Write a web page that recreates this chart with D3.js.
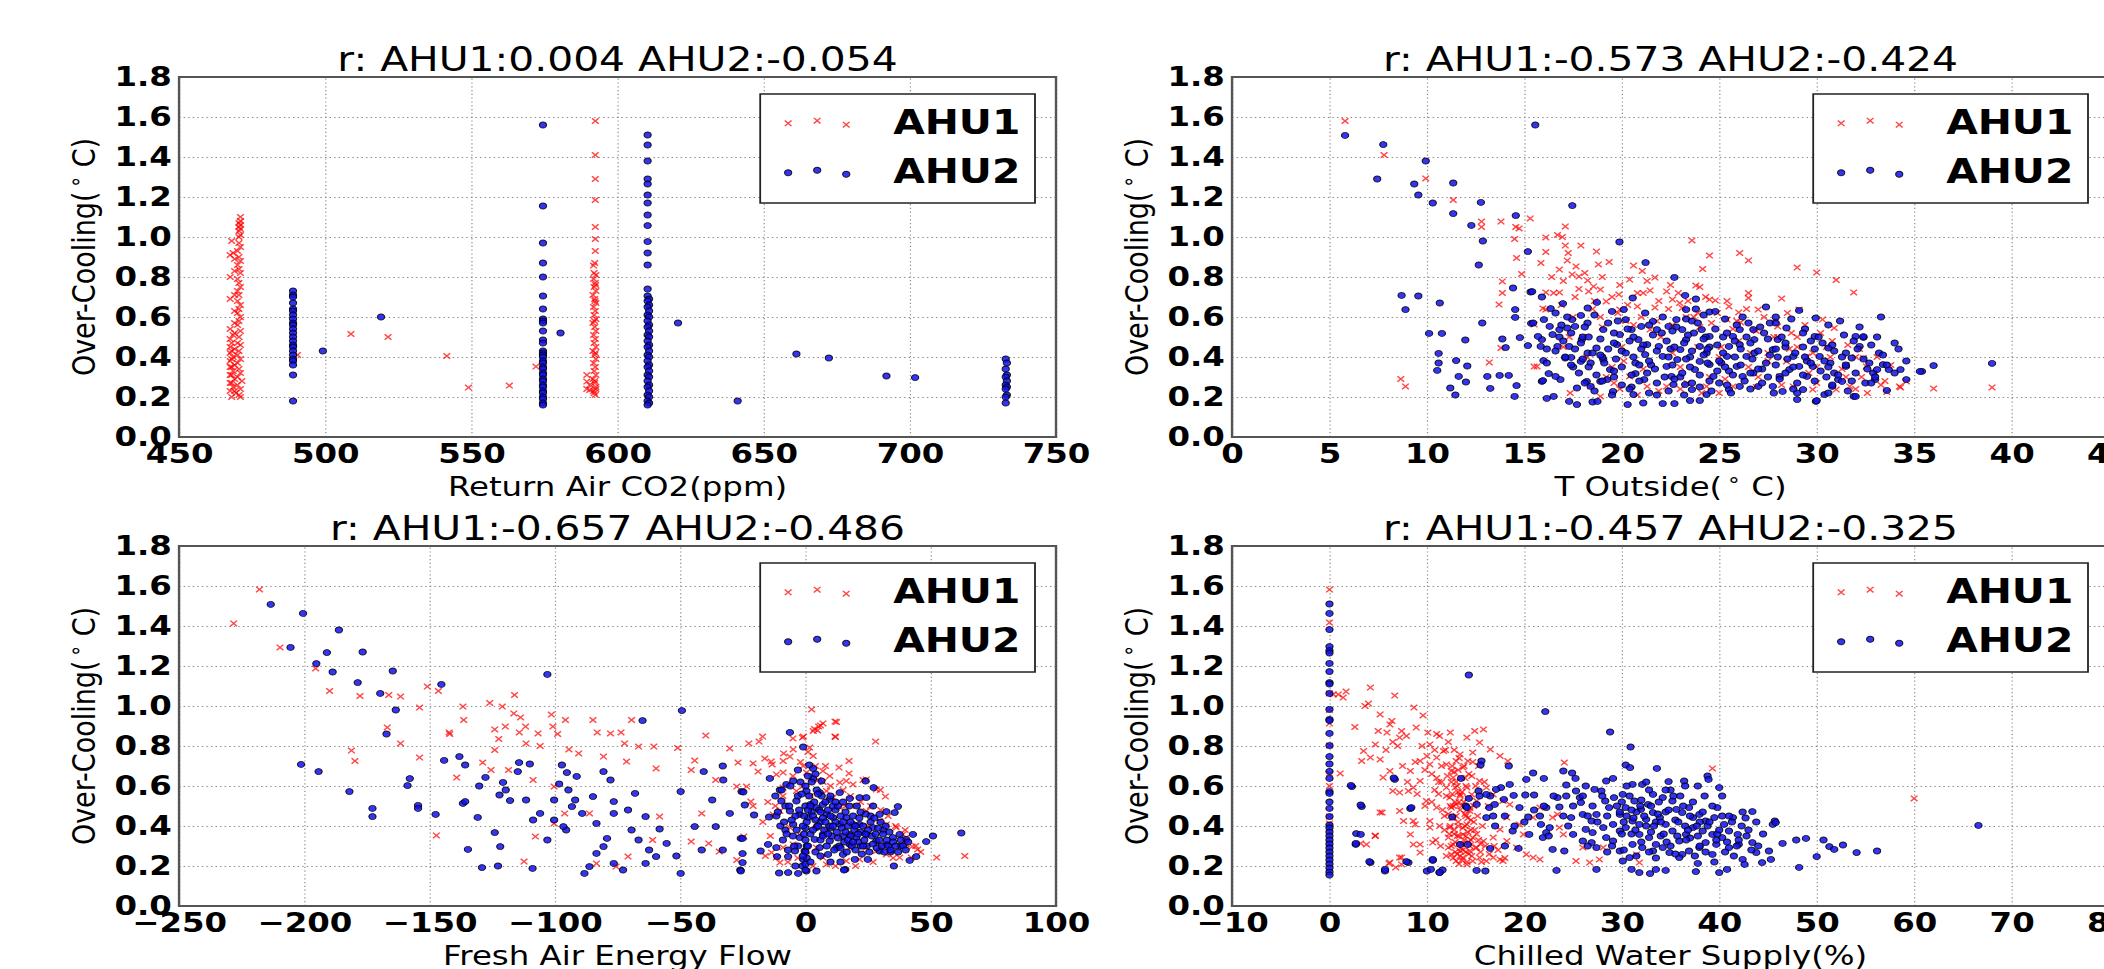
<!DOCTYPE html>
<html>
<head>
<meta charset="utf-8">
<script src="https://cdn.jsdelivr.net/npm/d3@7"></script>
<style>
  body { margin: 0; background: #fff; }
  svg { display: block; }
</style>
</head>
<body>
<script>
// ---- data: [x, over-cooling] ----
var yTicks = [0, 0.2, 0.4, 0.6, 0.8, 1.0, 1.2, 1.4, 1.6, 1.8];

var co2Ticks = [450, 500, 550, 600, 650, 700, 750];
var co2Ahu1 = [[471,1.10],[471,1.08],[470.5,1.07],[471,1.06],[470.5,1.05],[471,1.04],[470.5,1.03],[471,1.01],[470.5,1.00],[468,0.98],[470.5,0.97],[471,0.95],[470,0.93],[467.5,0.91],[468.5,0.92],[470.5,0.90],[471,0.88],[470,0.86],[470.5,0.84],[471,0.82],[467.5,0.80],[470,0.79],[470.5,0.77],[471,0.75],[470,0.73],[470.5,0.71],[467.5,0.69],[470,0.68],[471,0.66],[470.5,0.64],[470,0.62],[471,0.60],[470.5,0.58],[470,0.56],[467.5,0.54],[471,0.53],[468.5,0.51],[470.5,0.50],[467.5,0.49],[470,0.47],[471,0.46],[467.5,0.45],[469,0.44],[470.5,0.43],[467.5,0.42],[470,0.41],[468.5,0.40],[471,0.39],[467.5,0.38],[470,0.37],[469,0.36],[467.5,0.35],[470.5,0.34],[468.5,0.33],[471,0.32],[467.5,0.31],[470,0.30],[469,0.29],[471.5,0.28],[467.5,0.27],[470,0.26],[468.5,0.25],[471,0.24],[467.5,0.23],[469.5,0.22],[470.5,0.21],[468,0.20],[471,0.20],[469,0.23],[468,0.27],[468,0.31],[468,0.35],[468,0.39],[468,0.43],[468,0.47],[469,0.52],[469,0.57],[469,0.63],[469,0.71],[469,0.83],[469,0.89],
  [490.5,0.41],[508.8,0.515],[521.5,0.50],[541.6,0.405],[549,0.247],[563,0.257],[572.1,0.352],
  [592.4,1.58],[592.4,1.41],[592.4,1.29],[592.4,1.185],[592.4,1.05],[592.4,0.99],[592.4,0.93],[592.2,0.87],[591.8,0.857],[592,0.82],[592.6,0.81],[591.8,0.79],[592.4,0.77],[592,0.75],[592.6,0.73],[591.6,0.71],[592.2,0.69],[592.6,0.67],[591.8,0.65],[592.4,0.63],[592,0.61],[592.6,0.59],[591.6,0.57],[592.2,0.55],[592.6,0.53],[591.8,0.51],[592.4,0.49],[592,0.47],[592.6,0.45],[591.6,0.43],[592.2,0.41],[592.6,0.39],[591.8,0.37],[592.4,0.35],[592,0.33],[592.6,0.31],[591.6,0.29],[592.2,0.27],[592.6,0.25],[591.8,0.23],[592.4,0.21],[592,0.22],[592.6,0.24],[592.2,0.28],[592.4,0.42],[592.1,0.58],[592.3,0.68],[592.5,0.76],[589.5,0.31],[589.5,0.277],[589.5,0.24],[590.5,0.26],[590.5,0.235]];
var co2Ahu2 = [[489,0.73],[489,0.71],[489,0.70],[489,0.67],[489,0.64],[489,0.63],[489,0.61],[489,0.59],[489,0.57],[489,0.56],[489,0.54],[489,0.52],[489,0.50],[489,0.48],[489,0.46],[489,0.45],[489,0.43],[489,0.41],[489,0.39],[489,0.38],[489,0.36],[489,0.31],[489,0.18],
  [499.2,0.43],[519.1,0.60],
  [574.5,1.56],[574.5,1.155],[574.5,0.97],[574.5,0.87],[574.5,0.80],[574.5,0.705],[574.5,0.64],[574.5,0.59],[574.5,0.58],[574.5,0.57],[574.5,0.53],[574.5,0.485],[574.5,0.47],[574.5,0.43],[574.5,0.42],[574.5,0.41],[574.5,0.40],[574.5,0.38],[574.5,0.37],[574.5,0.35],[574.5,0.34],[574.5,0.32],[574.5,0.31],[574.5,0.29],[574.5,0.28],[574.5,0.26],[574.5,0.25],[574.5,0.23],[574.5,0.22],[574.5,0.20],[574.5,0.19],[574.5,0.17],[574.5,0.16],
  [580.5,0.52],
  [610.3,1.51],[610.3,1.46],[610.3,1.38],[610.3,1.29],[610.3,1.265],[610.3,1.21],[610.3,1.17],[610.3,1.11],[610.3,1.057],[610.3,0.977],[610.3,0.92],[610.3,0.86],[610.3,0.74],[610.3,0.705],[610.8,0.69],[610.3,0.68],[610.8,0.66],[610.3,0.65],[610.8,0.63],[610.3,0.61],[610.8,0.60],[610.3,0.58],[610.8,0.56],[610.3,0.55],[610.8,0.53],[610.3,0.51],[610.8,0.50],[610.3,0.48],[610.8,0.46],[610.3,0.45],[610.8,0.43],[610.3,0.41],[610.8,0.40],[610.3,0.38],[610.8,0.36],[610.3,0.35],[610.8,0.33],[610.3,0.31],[610.8,0.30],[610.3,0.28],[610.8,0.26],[610.3,0.25],[610.8,0.23],[610.3,0.21],[610.8,0.20],[610.3,0.18],[610.8,0.17],[610.3,0.16],
  [620.7,0.57],[641.1,0.18],[661.2,0.415],[672.3,0.395],[692,0.305],[701.8,0.297],
  [732.8,0.39],[733.2,0.37],[732.8,0.34],[733.2,0.31],[732.8,0.30],[733.2,0.28],[732.8,0.26],[733.2,0.25],[732.8,0.24],[733.2,0.21],[732.8,0.20],[732.8,0.17]];

var toutTicks = [0, 5, 10, 15, 20, 25, 30, 35, 40, 45];
var toutAhu1 = [[5.8,1.58],[7.8,1.41],[9.94,1.293],[11.35,1.185],[12.8,1.077],[12.8,1.05],[13.8,1.077],[14.56,1.05],[14.73,1.043],[15.3,1.093],[14.5,0.99],[16.1,0.998],[17.1,1.053],[16.7,1.01],[8.66,0.29],[8.9,0.253],[13.2,0.373],[13.8,0.445],[13.7,0.662],[13.87,0.72],[13.87,0.778],[14.6,0.895],[15.5,0.352],[23.6,0.983],[26.05,0.92],[26.5,0.883],[29.0,0.847],[30.0,0.822],[31.0,0.785],[31.9,0.723],[36.0,0.242],[39.0,0.248],[34.3,0.248],[33.6,0.225],
  [16.1,0.925],[15.85,0.87],[16.95,1.0],[17.1,0.957],[17.25,0.92],[17.9,0.957],[18.7,0.927],[18.8,0.863],[19.35,0.875],[17.2,0.883],[16.8,0.837],[17.65,0.853],[17.45,0.813],[17.8,0.803],[18.25,0.783],[18.55,0.753],[18.3,0.728],[18.9,0.737],[16.8,0.723],[16.5,0.72],[16.1,0.723],[15.95,0.643],[14.86,0.815],
  [20.6,0.857],[21.05,0.83],[21.7,0.797],[21.45,0.733],[21.1,0.72],[20.4,0.787],[19.85,0.712],[19.2,0.678],[18.5,0.64],[19.9,0.637],[20.8,0.653],[21.7,0.647],[22.3,0.728],[22.5,0.76],[22.97,0.67],[23.1,0.645],[24.15,0.84],[24.5,0.907],[23.8,0.757],[24.0,0.75],[24.5,0.687],[24.8,0.683],[25.5,0.653],[26.0,0.623],[26.5,0.72],[26.5,0.695],[27.0,0.637],[28.2,0.692],[29.1,0.637],[30.3,0.587],[30.9,0.545],[28.0,0.553],[28.7,0.52],[26.8,0.537],[26.1,0.573],[25.4,0.587],[32.4,0.395],[32.55,0.353],[32.6,0.22],[34.25,0.253],[34.6,0.278],[31.7,0.253],[31.0,0.237],[29.8,0.237],[28.8,0.253],[28.1,0.303],[28.45,0.378],[29.5,0.403],[25.7,0.253],[25.0,0.22],[24.35,0.253],[23.35,0.27],[22.3,0.253],[21.3,0.253],[20.4,0.303],[19.6,0.27],[18.9,0.203],[18.4,0.253],[17.35,0.22],[15.65,0.353],[15.5,0.562],[16.1,0.637],
  [20.0,0.45],[22.0,0.5],[24.0,0.55],[26.0,0.48],[27.5,0.42],[30.0,0.35],[31.5,0.3],[33.0,0.32],[23.0,0.35],[19.0,0.55],[21.0,0.6],[25.0,0.4],[27.0,0.3],[29.0,0.45],[17.5,0.6],[18.0,0.5],[21.45,0.537],[22.6,0.687],[20.2,0.58],[23.7,0.6],[27.8,0.5],[30.5,0.45],[32.0,0.4],[33.5,0.28],[26.5,0.35],[24.5,0.3],[19.5,0.35],[17.0,0.45],
  [17.0,0.78],[17.6,0.7],[18.1,0.82],[18.6,0.68],[19.0,0.8],[19.5,0.7],[19.9,0.76],[20.3,0.66],[20.8,0.72],[21.3,0.78],[21.9,0.68],[22.4,0.64],[22.9,0.72],[23.4,0.68],[23.9,0.62],[24.3,0.7],[24.9,0.62],[25.4,0.68],[25.9,0.58],[26.4,0.64],[27.3,0.6],[27.9,0.58],[28.5,0.62],[29.4,0.56],[30.2,0.52],[30.8,0.48],[31.6,0.46],[32.2,0.44],[33.1,0.4],[33.8,0.36],[16.4,0.8],[16.9,0.66],[17.8,0.74],[18.9,0.6],[19.8,0.62],[20.6,0.56],[21.8,0.58],[22.6,0.56],[23.3,0.6],[24.6,0.57],[25.7,0.54],[26.9,0.53],[28.0,0.5],[29.0,0.5],[29.8,0.42],[30.7,0.4],[31.5,0.36],[32.3,0.3],[33.3,0.26],[32.0,0.24],[30.0,0.27],[28.2,0.26],[26.9,0.25],[25.3,0.29],[24.1,0.22],[23.0,0.24],[21.9,0.23],[20.8,0.21],[19.9,0.24],[19.2,0.3],[18.2,0.4],[17.3,0.5],[20.1,0.38],[22.6,0.42],[25.1,0.45],[27.5,0.38],[29.6,0.32],[31.3,0.34],[23.9,0.45],[21.1,0.34],[26.6,0.42],[28.6,0.44]];
var toutAhu2 = [[5.8,1.508],[7.76,1.462],[7.45,1.29],[9.35,1.265],[9.56,1.21],[9.94,1.38],[10.3,1.17],[11.35,1.27],[11.35,1.117],[12.77,1.173],[12.28,1.058],[12.87,0.98],[12.66,0.86],[15.56,1.56],[14.56,1.107],[17.46,1.157],[15.18,0.927],[19.88,0.975],[21.22,0.872],[8.7,0.708],[9.56,0.705],[8.9,0.637],[10.66,0.67],[10.11,0.518],[10.77,0.518],[12.84,0.57],[11.97,0.485],[10.6,0.418],[10.6,0.37],[10.53,0.333],[11.2,0.245],[11.46,0.21],[11.63,0.303],[12.0,0.275],[12.07,0.355],[11.5,0.382],[13.1,0.303],[13.25,0.243],[13.73,0.308],[14.2,0.308],[14.04,0.447],[13.87,0.49],[14.5,0.203],[14.6,0.257],[14.53,0.598],[14.53,0.637],[14.42,0.745],[14.77,0.497],[15.18,0.457],[15.32,0.725],[15.35,0.568],[15.84,0.453],[15.98,0.382],[15.9,0.278],[16.15,0.193],[16.5,0.203],
  [22.7,0.798],[23.25,0.708],[23.8,0.69],[20.56,0.695],[16.98,0.667],[15.9,0.7],[15.4,0.727],[15.45,0.57],[16.0,0.587],[16.35,0.642],[16.6,0.62],[16.8,0.537],[16.8,0.5],[17.2,0.545],[17.45,0.587],[17.6,0.553],[17.9,0.608],[18.25,0.645],[18.72,0.673],[18.24,0.57],[17.95,0.487],[17.3,0.453],[17.1,0.395],[17.4,0.398],[17.9,0.378],[18.25,0.42],[18.7,0.445],[18.4,0.37],[19.05,0.537],[19.5,0.628],[20.1,0.637],[20.2,0.587],[19.9,0.512],[19.75,0.462],[19.05,0.387],[19.4,0.337],[19.25,0.287],[18.9,0.278],[18.4,0.253],[18.2,0.278],[17.7,0.245],[17.3,0.178],[17.7,0.162],[18.5,0.175],[18.75,0.178],[19.55,0.228],[20.3,0.162],[20.6,0.212],[21.1,0.17],[22.1,0.167],[22.7,0.167],[23.5,0.182],[24.0,0.182],[24.35,0.212],[21.15,0.287],[20.7,0.317],[20.7,0.37],[21.2,0.412],[21.3,0.462],[20.85,0.487],[20.5,0.537],[21.0,0.553],[21.6,0.578],[21.8,0.537],[22.05,0.52],[22.4,0.553],[22.8,0.587],[23.1,0.537],[23.3,0.59],[23.3,0.637],[23.8,0.64],[24.5,0.625],[24.8,0.628],[21.9,0.453],[22.1,0.403],[22.3,0.353],[22.55,0.303],[22.65,0.262],[23.25,0.262],[23.6,0.237],[22.85,0.387],[23.0,0.437],[23.3,0.487],[23.7,0.52],[24.1,0.537],[24.5,0.503],[24.0,0.453],[24.35,0.42],[24.0,0.378],[23.75,0.337],[24.5,0.362],[24.7,0.303],[25.0,0.27],[25.1,0.37],[25.4,0.403],[25.5,0.453],[25.7,0.503],[26.05,0.537],[26.5,0.57],[26.75,0.537],[27.4,0.65],[26.8,0.487],[26.05,0.462],[26.4,0.403],[25.9,0.353],[26.2,0.303],[26.75,0.32],[27.0,0.253],[26.05,0.253],[25.5,0.237],[27.4,0.37],[27.75,0.437],[28.0,0.487],[28.45,0.545],[28.4,0.45],[28.8,0.403],[29.1,0.353],[28.6,0.337],[28.1,0.303],[27.75,0.253],[28.25,0.228],[29.0,0.22],[29.0,0.187],[29.96,0.178],[29.3,0.237],[29.5,0.303],[29.8,0.353],[30.15,0.403],[30.6,0.445],[30.3,0.47],[29.9,0.503],[29.1,0.633],[29.95,0.595],[29.3,0.45],[30.7,0.37],[30.9,0.32],[31.1,0.287],[31.5,0.353],[31.8,0.395],[32.2,0.453],[32.4,0.498],[32.0,0.503],[32.7,0.37],[32.9,0.32],[33.4,0.362],[33.7,0.337],[34.3,0.337],[34.6,0.287],[33.6,0.233],[35.4,0.328],[31.9,0.203],[30.4,0.212],[30.8,0.253],[31.3,0.278],[32.5,0.27],[33.0,0.287],[16.85,0.287],[16.6,0.303],[16.25,0.317],[15.95,0.282],[16.15,0.37],[16.7,0.453],[16.15,0.44],[15.9,0.487],[15.7,0.503],[16.45,0.512],[16.3,0.553],
  [32.4,0.502],[35.3,0.328],[36.0,0.357],[39.0,0.368],[33.1,0.337],[32.0,0.203],[30.0,0.182],
  [19.0,0.4],[20.0,0.43],[21.5,0.36],[22.5,0.44],[23.5,0.4],[24.5,0.45],[25.5,0.33],[26.8,0.42],[27.2,0.34],[28.0,0.4],[29.5,0.38],[30.5,0.3],[31.5,0.42],[19.6,0.3],[20.5,0.25],[21.8,0.21],[23.0,0.3],[24.0,0.25],[25.2,0.5],[27.6,0.57],[17.5,0.35],[18.0,0.5],
  [17.2,0.6],[18.6,0.61],[19.8,0.58],[21.2,0.62],[22.1,0.6],[23.6,0.58],[24.2,0.61],[25.3,0.59],[26.2,0.6],[27.9,0.6],[28.7,0.59],[31.2,0.58],[33.3,0.6],
  [16.9,0.56],[18.1,0.55],[19.3,0.57],[20.3,0.54],[21.4,0.56],[22.8,0.55],[23.9,0.57],[24.8,0.54],[25.9,0.56],[27.1,0.55],[27.9,0.57],[29.4,0.54],[30.6,0.56],[32.2,0.55],
  [17.4,0.52],[18.3,0.5],[19.6,0.52],[20.6,0.5],[21.6,0.51],[22.6,0.53],[23.4,0.51],[24.3,0.5],[25.4,0.52],[26.4,0.5],[27.3,0.52],[28.2,0.5],[29.3,0.52],[30.1,0.5],[31.4,0.51],[33.1,0.5],
  [17.0,0.48],[17.9,0.47],[18.9,0.49],[19.6,0.47],[20.4,0.48],[21.1,0.46],[22.3,0.48],[23.2,0.47],[24.2,0.49],[24.9,0.46],[25.8,0.48],[26.6,0.47],[27.5,0.49],[28.4,0.47],[29.7,0.48],[30.8,0.46],[31.9,0.48],[32.8,0.46],[34.0,0.47],
  [16.6,0.43],[17.6,0.44],[18.5,0.42],[19.3,0.44],[20.2,0.42],[21.0,0.44],[21.8,0.43],[22.7,0.45],[23.6,0.43],[24.4,0.44],[25.2,0.42],[26.1,0.44],[27.0,0.43],[27.9,0.44],[28.9,0.42],[29.9,0.44],[30.9,0.43],[32.1,0.44],[33.2,0.42],[34.2,0.44],
  [17.1,0.4],[18.0,0.39],[18.9,0.41],[19.7,0.39],[20.6,0.4],[21.4,0.38],[22.4,0.4],[23.3,0.39],[24.2,0.41],[25.0,0.38],[25.8,0.4],[26.7,0.39],[27.6,0.41],[28.5,0.39],[29.4,0.4],[30.4,0.38],[31.3,0.4],[32.4,0.39],[33.4,0.41],[34.6,0.38],
  [17.4,0.36],[18.3,0.35],[19.1,0.37],[20.0,0.35],[20.9,0.36],[21.7,0.34],[22.6,0.36],[23.5,0.35],[24.4,0.37],[25.3,0.35],[26.1,0.36],[27.0,0.34],[27.9,0.36],[28.8,0.35],[29.7,0.37],[30.6,0.35],[31.5,0.36],[32.6,0.34],[33.6,0.36],
  [17.8,0.32],[18.7,0.31],[19.6,0.33],[20.5,0.31],[21.3,0.32],[22.2,0.3],[23.1,0.32],[24.0,0.31],[24.9,0.33],[25.7,0.31],[26.6,0.32],[27.5,0.3],[28.4,0.32],[29.3,0.31],[30.2,0.33],[31.1,0.31],[32.0,0.32],[33.0,0.3],[34.0,0.32],
  [18.1,0.27],[19.0,0.28],[20.0,0.26],[20.9,0.28],[21.8,0.27],[22.7,0.29],[23.6,0.27],[24.5,0.28],[25.4,0.26],[26.3,0.28],[27.2,0.27],[28.1,0.29],[29.0,0.27],[29.9,0.28],[30.8,0.26],[31.8,0.28],[32.8,0.27],
  [18.6,0.23],[19.5,0.21],[20.4,0.24],[21.4,0.22],[22.4,0.23],[23.2,0.21],[24.6,0.23],[25.6,0.22],[26.6,0.24],[27.8,0.22],[28.8,0.24],[30.6,0.22],[31.6,0.23]];

var faefTicks = [-250, -200, -150, -100, -50, 0, 50, 100];
var faefAhu1 = [[-228.2,1.413],[-217.9,1.583],[-209.7,1.293],[-195.5,1.188],[-189.9,1.075],[-181.2,0.777],[-179.8,0.725],[-177.8,1.05],[-166.3,1.055],[-161.6,1.047],[-166.9,0.893],[-161.6,0.813],[-154.0,0.992],[-154.0,0.742],[-150.9,1.097],[-146.5,1.075],[-147.3,0.353],[-142.2,0.868],[-142,0.86],[-136.7,0.997],[-136.4,0.93],[-139.2,0.642],[-128.8,0.717],[-126,1.015],[-124,0.883],[-122.4,0.835],[-121,0.997],[-119.8,0.897],[-124,0.78],[-116.1,1.055],[-116.4,0.963],[-113.7,0.943],[-111.7,0.897],[-114.2,0.868],[-111.5,0.813],[-106.7,0.863],[-105.9,0.8],[-112.3,0.222],[-107.8,0.347],[-101.4,0.957],[-100.8,0.897],[-98.9,0.86],[-95.8,0.93],[-94.4,0.783],[-90.5,0.763],[-84.8,0.93],[-83.1,0.868],[-80.6,0.747],[-77.8,0.863],[-73.6,0.868],[-72.2,0.813],[-69.4,0.93],[-71.4,0.722],[-66.6,0.797],[-59.6,0.688],[-60.5,0.797],[-51,0.79],[-45.6,0.68],[-39.8,0.852],[-44.2,0.727],[-30.2,0.788],[-26.9,0.717],[-18.5,0.822],[-17.1,0.847],[-13.7,0.722],[-8.7,0.763],[-5.0,0.838],[-0.8,0.847],[2.5,0.983],[3.6,0.885],[5.3,0.897],[7.0,0.913],[11.8,0.922],[11.8,0.847],[17.4,0.725],[28.0,0.822],[52.4,0.242],[63.6,0.25],[17.4,0.663],[23.0,0.63],[29.9,0.58],[31.9,0.547],[39.8,0.38],[42.6,0.297],[-34.4,0.272],[-38.6,0.313],[-24.6,0.347],[-27.4,0.23],[-45.6,0.322],[-61,0.33],[-70.8,0.247],[-75.6,0.197],[-83.4,0.213],[-86.2,0.463],[-96.1,0.463],[-100.3,0.597],[-108.7,0.63],[-118.5,0.68],[-125.5,0.68],[-100.3,0.413],[-58.2,0.447],[-41.4,0.463],[-21.8,0.522],[-27.4,0.597],[-35.8,0.63],
  [12.4,0.92],[6.0,0.903],[4.8,0.878],[3.1,0.875],[12.0,0.845],[-22.6,0.813],[-1.2,0.842],[-4.9,0.783],[-8.9,0.725],[-6.2,0.747],[-13.3,0.708],[-20.9,0.713],[-16.2,0.737],[1.7,0.792],[3.1,0.75],[-0.9,0.7],[0.4,0.667],[2.4,0.642],[7.0,0.675],[9.7,0.65],[13.4,0.692],[13.7,0.617],[16.3,0.625],[19.0,0.608],[24.3,0.633],[28.3,0.583],[-8.9,0.667],[-11.6,0.658],[-18.9,0.672],[-23.5,0.597],[-20.9,0.5],[-12.9,0.458],[-8.9,0.592],[-3.6,0.575],[8.4,0.575],[11.0,0.542],[13.7,0.492],[20.3,0.5],[24.3,0.475],[29.6,0.425],[32.3,0.408],[36.3,0.392],[38.9,0.358],[40.2,0.308],[44.8,0.283],[42.3,0.242],[37.6,0.242],[32.3,0.258],[28.3,0.275],[24.3,0.292],[21.6,0.233],[16.3,0.225],[8.4,0.208],[7.0,0.242],[4.4,0.292],[0.4,0.275],[-10.2,0.217],[-11.6,0.242],[-13.5,0.267],[-8.9,0.292],[17.7,0.292],[13.7,0.342],[8.4,0.375],[4.4,0.417],[-2.3,0.358],[-4.9,0.308],[-6.2,0.392],[-10.2,0.475],
  [-5,0.65],[-2,0.72],[1,0.77],[4,0.7],[7,0.62],[10,0.6],[15,0.58],[18,0.55],[22,0.52],[26,0.5],[30,0.48],[33,0.45],[36,0.4],[40,0.34],[44,0.3],[46,0.27],[-9,0.55],[-12,0.5],[-15,0.52],[-17,0.42],[-14,0.35],[-16,0.25],[-7,0.22],[-3,0.24],[3,0.2],[12,0.2],[20,0.2],[27,0.22],[35,0.24],[30,0.3],[25,0.4],[5,0.63],[-1,0.6],[8,0.7],[2,0.55],[16,0.5]];
var faefAhu2 = [[-213.4,1.508],[-200.5,1.463],[-205.5,1.293],[-195.2,1.212],[-191,1.267],[-188.7,1.17],[-186.2,1.38],[-178.7,1.117],[-176.7,1.27],[-169.7,1.063],[-164.7,1.175],[-163.5,0.98],[-167.2,0.86],[-201.3,0.708],[-194.3,0.672],[-182,0.572],[-172.8,0.488],[-172.8,0.447],[-157.9,0.637],[-158.8,0.602],[-154.6,0.503],[-154.6,0.488],[-147.6,0.458],[-145.3,1.108],[-144.2,0.728],[-138.1,0.747],[-135.8,0.705],[-136.7,0.513],[-135.8,0.522],[-134.7,0.283],[-130.8,0.443],[-129.1,0.192],[-127.7,0.643],[-130.2,0.6],[-124,0.367],[-122.7,0.2],[-121.8,0.297],[-120.7,0.618],[-119.6,0.58],[-122.1,0.555],[-117.9,0.527],[-114.3,0.717],[-114.8,0.672],[-110,0.71],[-108.9,0.188],[-103,1.158],[-103,0.33],[-97.2,0.705],[-95.2,0.667],[-91.3,0.648],[-98.3,0.61],[-95.5,0.38],[-96.6,0.397],[-88.2,0.163],[-86.2,0.197],[-80.6,0.672],[-79.2,0.338],[-76.5,0.213],[-72.8,0.18],[-65,0.927],[-49.3,0.977],[-40.6,0.672],[-33,0.7],[-32.8,0.63],[-25.5,0.572],[-25.8,0.338],[-26,0.18],[-49.8,0.163],[-51.5,0.25],[-49.8,0.572],[-37.2,0.53],[-30.2,0.463],[-58.2,0.385],[-55.4,0.313],[-63.8,0.447],[-68,0.563],[-70.8,0.48],[-76.5,0.522],[-76.5,0.463],[-83.4,0.413],[-80.6,0.297],[-83.4,0.263],[-89.1,0.463],[-93.2,0.497],[-100.3,0.43],[-105.9,0.463],[-108.7,0.43],[-111.5,0.53],[-100.3,0.53],[-91.9,0.53],[-84.8,0.547],[-94.6,0.58],[-77.8,0.63],[-69.4,0.38],[-66.6,0.33],[-62.4,0.28],[-63.8,0.213],[-59.6,0.247],[-44.2,0.397],[-41.4,0.28],[-35.8,0.397],[-33,0.28],
  [-6.2,0.868],[-0.9,0.795],[1.5,0.705],[3.1,0.687],[3.1,0.637],[6.4,0.625],[-4.9,0.625],[-14.2,0.638],[-24.8,0.57],[-24.2,0.505],[-20.5,0.455],[-25.1,0.338],[-25.1,0.262],[-25.1,0.217],[-25.8,0.175],[-10.5,0.165],[-6.9,0.167],[-2.9,0.163],[0.4,0.175],[4.4,0.175],[15.9,0.183],[15.4,0.18],[35.3,0.2],[41.6,0.228],[44.2,0.247],[48.2,0.322],[50.9,0.35],[62.2,0.365],[36.9,0.497],[35.6,0.467],[32.3,0.472],[27.2,0.592],[24.0,0.625],[21.6,0.542],[17.7,0.538],[13.7,0.567],[9.7,0.533],[7.0,0.508],[5.7,0.567],[-10.2,0.58],[-7.6,0.608],[-9.6,0.525],[-11.6,0.45],[-14.5,0.445],[-14.9,0.308],[-17.9,0.275],[-11.6,0.292],[-11.3,0.247],[-6.9,0.247],[-4.2,0.275],[-0.9,0.233],[-1.2,0.2],[-0.3,0.275],[-2.3,0.342],[-4.9,0.408],[-6.2,0.475],[-3.6,0.525],[0.4,0.575],[2.0,0.508],[1.1,0.442],[4.4,0.392],[7.0,0.358],[9.7,0.325],[12.4,0.292],[15.0,0.258],[17.7,0.308],[20.3,0.342],[24.3,0.358],[27.0,0.392],[28.3,0.325],[29.6,0.275],[32.3,0.308],[34.9,0.342],[37.6,0.358],[40.2,0.333],[42.9,0.358],[13.7,0.408],[11.0,0.442],[16.3,0.442],[19.0,0.408],[8.4,0.458],[4.4,0.492],[-2.3,0.458],[24.3,0.542],[27.0,0.5],[29.6,0.458],[21.6,0.408],[17.7,0.358],[3.7,0.333],[5.7,0.292],[9.0,0.258],[19.7,0.233],[24.9,0.233],
  [0,0.18],[0,0.21],[0.5,0.24],[0,0.27],[0.5,0.3],[0,0.33],[-0.5,0.36],[0,0.39],[2.5,0.47],[6,0.42],[10,0.39],[12,0.48],[15,0.35],[22,0.3],[26,0.45],[31,0.38],[34,0.27],[38,0.3],[-8,0.38],[-3,0.3],
  [-12,0.55],[-10,0.4],[-9,0.33],[-8,0.5],[-7,0.28],[-6,0.6],[-5,0.35],[-4,0.45],[-3,0.55],[-2,0.62],[-1,0.4],[0,0.5],[0,0.6],[1,0.3],[1.5,0.55],[2,0.36],[2.5,0.62],[3,0.45],[3.5,0.52],[4,0.27],[4.5,0.58],[5,0.4],[5.5,0.48],[6,0.33],[6.5,0.55],[7,0.44],[7.5,0.38],[8,0.52],[8.5,0.3],[9,0.48],[9.5,0.4],[10,0.55],[10.5,0.35],[11,0.5],[11.5,0.28],[12,0.42],[12.5,0.37],[13,0.5],[13.5,0.3],[14,0.45],[14.5,0.39],[15,0.52],[15.5,0.32],[16,0.47],[16.5,0.27],[17,0.4],[17.5,0.5],[18,0.35],[18.5,0.3],[19,0.45],[19.5,0.38],[20,0.28],[20.5,0.5],[21,0.32],[21.5,0.44],[22,0.37],[22.5,0.26],[23,0.4],[23.5,0.33],[24,0.46],[24.5,0.3],[25,0.38],[25.5,0.27],[26,0.42],[26.5,0.35],[27,0.31],[27.5,0.44],[28,0.36],[28.5,0.29],[29,0.39],[29.5,0.33],[30,0.42],[30.5,0.3],[31,0.36],[31.5,0.27],[32,0.4],[32.5,0.33],[33,0.3],[33.5,0.37],[34,0.28],[35,0.32],[36,0.3],[37,0.27],[38,0.33],[39,0.3],[40,0.28],[41,0.32],
  [-11,0.47],[-9.5,0.58],[-8.5,0.42],[-7.5,0.36],[-6.5,0.5],[-5.5,0.43],[-4.5,0.3],[-3.5,0.38],[-2.5,0.48],[-1.5,0.56],[-0.5,0.45],[0.5,0.42],[1,0.48],[2,0.5],[3,0.38],[4,0.43],[5,0.56],[6,0.47],[7,0.35],[8,0.42],[9,0.36],[10,0.45],[11,0.4],[12,0.52],[13,0.34],[14,0.29],[15,0.42],[16,0.37],[17,0.33],[18,0.42],[19,0.32],[20,0.4],[21,0.36],[22,0.47],[23,0.3],[24,0.36],[-1,0.25],[2,0.22],[6,0.25],[10,0.22],[14,0.22],[-4,0.2],[1,0.65],[4,0.66],[-3,0.68]];

var cwsTicks = [-10, 0, 10, 20, 30, 40, 50, 60, 70, 80];
var cwsAhu1 = [[0,1.582],[0,1.417],[0,1.063],[0,0.98],[0,0.913],[0,0.802],[0,0.663],[0,0.6],[0,0.447],[0,0.413],[0,0.313],
  [60.0,0.538],[1.1,0.663],[5.2,0.468],[4.7,0.352],[3.2,0.313],[7.4,0.243],[6.1,0.213],[6.8,0.193],[2.6,0.895],
  [0.4,1.058],[0.9,1.058],[1.7,1.072],[1.4,1.042],[4.2,1.092],[3.65,1.0],[4.0,1.012],[6.7,1.052],[8.67,0.992],[9.6,0.953],[5.2,0.958],[6.4,0.925],[6.2,0.908],[5.0,0.875],[5.9,0.867],[7.4,0.875],[7.2,0.842],[7.9,0.85],[8.9,0.892],[10.1,0.867],[10.3,0.808],[11.3,0.85],[12.4,0.867],[14.1,0.842],[14.9,0.875],[15.8,0.883],[15.4,0.817],[16.5,0.783],[17.5,0.75],[18.3,0.725],[4.7,0.808],[3.5,0.775],[4.2,0.742],[3.3,0.725],[5.2,0.733],[6.2,0.675],[5.5,0.642],[6.5,0.575],[7.2,0.567],[8.1,0.575],[8.6,0.592],[9.3,0.625],[8.3,0.675],[9.3,0.725],[10.3,0.708],[11.0,0.742],[11.7,0.775],[12.0,0.708],[12.5,0.675],[13.0,0.725],[13.4,0.758],[13.7,0.692],[14.2,0.725],[14.7,0.767],[12.7,0.642],[12.0,0.592],[12.35,0.542],[12.5,0.492],[12.7,0.442],[12.35,0.392],[12.2,0.342],[12.2,0.292],[12.5,0.258],[13.0,0.225],[13.7,0.242],[14.1,0.208],[14.7,0.225],[15.4,0.242],[16.1,0.225],[16.8,0.242],[17.5,0.233],[17.8,0.225],[15.1,0.292],[15.8,0.325],[16.8,0.342],[17.5,0.383],[18.2,0.442],[18.5,0.508],[17.8,0.525],[16.8,0.558],[16.1,0.592],[15.4,0.625],[15.1,0.525],[14.4,0.475],[14.1,0.408],[13.7,0.358],[13.5,0.308],[13.0,0.508],[13.4,0.558],[12.9,0.592],[14.1,0.592],[14.6,0.558],[14.7,0.342],[14.4,0.275],[13.4,0.275],[12.7,0.308],[8.6,0.425],[8.8,0.408],[8.3,0.358],[9.3,0.308],[10.6,0.317],[9.3,0.267],[8.6,0.308],[7.2,0.242],[7.4,0.208],[6.2,0.217],[5.4,0.467],[3.8,0.308],[4.7,0.35],[10.3,0.425],[10.3,0.392],[11.0,0.492],[9.95,0.525],[7.2,0.475],[7.6,0.425],[20.9,0.242],[21.6,0.233],[20.2,0.258],[20.9,0.442],[21.6,0.492],[22.9,0.442],[23.4,0.458],[23.6,0.392],[24.0,0.358],[24.1,0.717],[25.3,0.225],[26.7,0.217],[27.7,0.233],[28.1,0.292],[26.0,0.292],[31.5,0.258],[31.8,0.217],[39.3,0.688],[19.2,0.292],[18.2,0.325],[19.9,0.358],[19.5,0.408],
  [11.5,0.62],[13.2,0.4],[14.0,0.45],[13.3,0.52],[12.8,0.36],[14.3,0.32],[11.8,0.45],[11.2,0.56],[9.8,0.68],[10.8,0.78],
  [12.2,0.82],[12.8,0.78],[13.3,0.74],[13.8,0.7],[14.3,0.66],[12.5,0.62],[13.1,0.6],[13.6,0.57],[14.2,0.54],[12.9,0.52],[13.4,0.48],[13.9,0.46],[14.5,0.43],[12.6,0.44],[13.2,0.42],[13.7,0.39],[14.2,0.37],[12.8,0.38],[13.3,0.35],[13.8,0.33],[14.4,0.3],[12.9,0.32],[13.5,0.29],[14.0,0.27],[14.6,0.25],[13.1,0.26],[13.6,0.23],[14.1,0.22],[12.7,0.24],[13.3,0.21],[14.8,0.5],[15.2,0.45],[14.9,0.38],[15.3,0.33],[15.0,0.29],[15.5,0.27],[16.0,0.3],[15.7,0.4],[16.3,0.5],[15.9,0.62],[15.3,0.7],[14.7,0.72],[12.0,0.55],[11.6,0.48],[11.2,0.62],[11.8,0.38],[11.4,0.3],[10.8,0.58],[10.5,0.66],[10.0,0.75],[9.5,0.8],[8.8,0.72],[9.0,0.56],[9.8,0.5],[8.0,0.62],[7.5,0.7],[7.0,0.8],[6.5,0.82],[5.8,0.78],[11.0,0.86],[12.6,0.7],[13.5,0.64],[14.0,0.6],[14.4,0.49],[13.0,0.45],[12.3,0.36],[13.7,0.28],[14.5,0.33],[13.4,0.55],[12.8,0.67],
  [12.4,0.5],[12.6,0.56],[13.0,0.62],[13.2,0.68],[13.6,0.5],[13.9,0.4],[14.2,0.44],[12.5,0.3],[12.9,0.27],[13.4,0.25],[14.3,0.26],[12.2,0.46],[12.4,0.4],[13.1,0.35],[13.6,0.31],[14.0,0.35],[14.5,0.38],[14.8,0.42],[15.1,0.36],[15.5,0.31],[13.8,0.52],[13.2,0.57],[12.7,0.5],[14.1,0.48],[15.0,0.6],[14.6,0.65],[13.9,0.64],[12.1,0.65],[11.5,0.7],[11.0,0.64],[10.5,0.52],[11.3,0.4],[10.9,0.33],[12.0,0.25],[15.6,0.22],[16.4,0.26],[16.9,0.3],[17.3,0.28],[18.0,0.24],[11.9,0.78]];
var cwsAhu2 = [[0,1.51],[0,1.463],[0,1.382],[0,1.297],[0,1.277],[0,1.265],[0,1.213],[0,1.172],[0,1.117],[0,1.11],[0,1.063],[0,0.983],[0,0.933],[0,0.927],[0,0.863],[0,0.802],[0,0.747],[0,0.71],[0,0.673],[0,0.638],[0,0.572],[0,0.563],[0,0.52],[0,0.488],[0,0.447],[0,0.405],[0,0.39],[0,0.37],[0,0.35],[0,0.33],[0,0.31],[0,0.29],[0,0.27],[0,0.25],[0,0.23],[0,0.21],[0,0.19],[0,0.17],[0,0.155],
  [14.3,1.155],[22.15,0.972],[28.8,0.87],[30.9,0.795],[30.4,0.705],[30.85,0.692],[33.6,0.688],[2.3,0.597],[3.3,0.497],[6.7,0.633],[8.3,0.487],[2.75,0.362],[2.7,0.308],[4.2,0.217],[5.7,0.175],[8.1,0.217],[10.0,0.175],[11.3,0.167],[11.6,0.18],[15.1,0.178],[16.0,0.175],[10.6,0.228],[13.4,0.308],[14.2,0.308],[13.5,0.638],[12.6,0.445],[14.0,0.5],[14.1,0.492],[14.3,0.538],[15.3,0.575],[15.6,0.725],[15.5,0.705],[18.4,0.7],[18.5,0.608],[17.6,0.592],[17.1,0.583],[16.5,0.55],[16.1,0.558],[15.4,0.55],[15.1,0.508],[16.4,0.492],[16.8,0.45],[16.1,0.442],[16.96,0.508],[18.9,0.553],[17.9,0.533],[18.8,0.375],[19.4,0.288],[18.0,0.3],[16.5,0.288],[19.5,0.492],[20.5,0.358],[21.0,0.555],[20.1,0.555],[20.2,0.633],[20.9,0.665],[22.0,0.638],[20.4,0.445],[21.6,0.45],[22.25,0.492],[21.7,0.408],[22.6,0.392],[22.25,0.367],[21.9,0.342],[22.9,0.283],[24.1,0.275],[23.3,0.178],[23.4,0.542],[23.6,0.495],[24.3,0.55],[24.0,0.675],[24.9,0.665],[25.25,0.638],[24.3,0.605],[25.3,0.575],[25.7,0.542],[26.3,0.6],[27.2,0.583],[27.9,0.575],[28.4,0.625],[29.1,0.638],[28.3,0.525],[26.0,0.458],[26.9,0.425],[27.4,0.458],[26.3,0.383],[26.0,0.325],[26.9,0.317],[27.4,0.292],[27.4,0.183],[29.8,0.275],[31.0,0.183],[31.8,0.167],[32.9,0.162],[33.5,0.183],[34.5,0.178],[36.2,0.258],[37.6,0.172],[37.8,0.213],[39.3,0.258],[40.0,0.167],[40.8,0.183],[42.4,0.233],[42.6,0.208],[43.4,0.317],[43.8,0.267],[44.4,0.217],[45.1,0.275],[45.3,0.233],[45.5,0.408],[45.7,0.425],[43.4,0.472],[42.4,0.47],[41.4,0.442],[40.3,0.55],[40.0,0.592],[38.8,0.65],[38.9,0.633],[39.8,0.492],[34.8,0.622],[36.4,0.625],[37.8,0.6],[31.1,0.608],[32.1,0.608],[30.1,0.558],[29.2,0.542],[28.7,0.492],[29.8,0.458],[30.4,0.492],[31.3,0.525],[31.96,0.483],[32.7,0.508],[33.2,0.558],[34.2,0.542],[35.2,0.525],[35.6,0.483],[36.2,0.467],[36.9,0.492],[37.3,0.442],[37.96,0.458],[38.6,0.425],[39.5,0.442],[40.5,0.408],[41.0,0.375],[41.9,0.358],[40.3,0.342],[39.3,0.358],[38.3,0.375],[37.3,0.392],[36.6,0.358],[35.9,0.325],[35.2,0.375],[34.5,0.408],[33.9,0.442],[33.2,0.467],[32.5,0.433],[31.8,0.408],[31.1,0.425],[30.4,0.392],[29.8,0.375],[29.1,0.408],[31.8,0.358],[32.8,0.342],[33.5,0.308],[34.2,0.292],[34.9,0.267],[35.9,0.242],[33.2,0.275],[32.1,0.292],[31.1,0.308],[36.9,0.275],[37.96,0.292],[38.6,0.317],[39.7,0.308],[41.0,0.292],[42.0,0.308],[28.1,0.392],[27.0,0.367],[28.4,0.342],[29.1,0.325],[30.1,0.225],[30.8,0.242],[25.0,0.358],[24.8,0.442],[25.8,0.517],
  [45.8,0.417],[46.5,0.313],[47.9,0.33],[48.9,0.338],[50.7,0.33],[51.3,0.297],[52.7,0.305],[54.1,0.267],[56.2,0.275],[51.8,0.283],[50.0,0.247],[48.2,0.193],[66.6,0.403],[3.2,0.358],[2.7,0.313],[5.7,0.183],[2.2,0.603],[3.2,0.505],[4.1,0.222],[7.9,0.222],[8.4,0.492],[6.6,0.64],[10.4,0.183],[11.3,0.168],[10.6,0.233],
  [30.5,0.45],[31.5,0.47],[32.5,0.4],[33.5,0.42],[34.5,0.47],[35.5,0.43],[36.5,0.4],[31.0,0.36],[33.0,0.37],[37.0,0.34],[38.0,0.42],[34.0,0.35],[32.0,0.53],[35.0,0.58],[30.0,0.52],
  [28.5,0.45],[29.5,0.5],[30.2,0.42],[30.8,0.55],[31.4,0.38],[31.9,0.5],[32.3,0.45],[32.8,0.58],[33.3,0.4],[33.8,0.52],[34.3,0.36],[34.8,0.48],[35.3,0.55],[35.8,0.42],[36.3,0.5],[36.8,0.38],[37.3,0.52],[37.8,0.35],[38.3,0.47],[38.8,0.4],[39.3,0.5],[39.8,0.36],[40.3,0.45],[40.8,0.32],[41.3,0.42],[41.8,0.3],[42.3,0.4],[42.8,0.35],[43.3,0.28],[29.0,0.3],[30.0,0.36],[31.0,0.48],[32.0,0.32],[33.0,0.5],[34.0,0.42],[35.0,0.3],[36.0,0.55],[37.0,0.45],[38.0,0.3],[39.0,0.42],[40.0,0.38],[41.0,0.45],[42.0,0.33],[43.0,0.38],[44.0,0.3],[30.5,0.6],[32.5,0.62],[34.5,0.58],[36.5,0.6],[38.5,0.55],[31.5,0.25],[33.5,0.24],[35.5,0.26],[37.5,0.25],[39.5,0.22],[41.5,0.25],[27.5,0.42],[28.0,0.55],[27.0,0.5],[26.5,0.45],[26.0,0.55],[25.0,0.5],[24.0,0.45],[23.0,0.55],[22.0,0.5],[21.0,0.48],[20.0,0.42],[19.0,0.4],[18.0,0.45],[17.0,0.4],[22.5,0.35],[24.5,0.4],[26.5,0.3],[28.5,0.27],[30.2,0.28],[32.8,0.27],[34.6,0.32],[36.6,0.33],[38.6,0.27],[40.6,0.27],[29.8,0.47],[31.2,0.44],[33.7,0.46],[35.7,0.35],[37.7,0.4],[39.7,0.33],[42.7,0.44],[44.5,0.36],[43.8,0.42]];

var titles = ["r: AHU1:0.004 AHU2:-0.054", "r: AHU1:-0.573 AHU2:-0.424", "r: AHU1:-0.657 AHU2:-0.486", "r: AHU1:-0.457 AHU2:-0.325"];
var seriesNames = ["AHU1", "AHU2"];

// ---- layout (unstretched units; the whole figure is stretched 1.2x horizontally) ----
var W = 2104, H = 969, S = 1.2;
var axW = 730.8, axH = 360;
var colX = [149.2, 1026.7], rowY = [77, 546];
var font = "'DejaVu Sans', 'Liberation Sans', sans-serif";

var panels = [
  {col: 0, row: 0, domain: [450, 750], ticks: co2Ticks, a1: co2Ahu1, a2: co2Ahu2, xlabel: ["Return Air CO2(ppm)"]},
  {col: 1, row: 0, domain: [0, 45], ticks: toutTicks, a1: toutAhu1, a2: toutAhu2, xlabel: ["T Outside(", "C)"]},
  {col: 0, row: 1, domain: [-250, 100], ticks: faefTicks, a1: faefAhu1, a2: faefAhu2, xlabel: ["Fresh Air Energy Flow"]},
  {col: 1, row: 1, domain: [-10, 80], ticks: cwsTicks, a1: cwsAhu1, a2: cwsAhu2, xlabel: ["Chilled Water Supply(%)"]}
];

var svg = d3.select("body").append("svg").attr("width", W).attr("height", H);
var root = svg.append("g").attr("transform", "scale(" + S + ",1)");

function crossPath(r) {
  var p = d3.path();
  p.moveTo(-r, -r); p.lineTo(r, r);
  p.moveTo(-r, r); p.lineTo(r, -r);
  return p.toString();
}

// text with a raised degree ring, like matplotlib mathtext
function degreeText(sel, parts) {
  sel.append("tspan").text(parts[0]);
  if (parts.length > 1) {
    sel.append("tspan").attr("font-size", 19).attr("dy", -10).text("\u2009\u2218");
    sel.append("tspan").attr("dy", 10).text(" " + parts[1]);
  }
}

function styleRed(s) {
  s.attr("d", crossPath(2.8))
    .attr("stroke", "#ff0000").attr("stroke-opacity", 0.72).attr("stroke-width", 1.3)
    .attr("fill", "none");
}
function styleBlue(s) {
  s.attr("r", 3)
    .attr("fill", "#1010f0").attr("fill-opacity", 0.85)
    .attr("stroke", "#000").attr("stroke-opacity", 0.85).attr("stroke-width", 0.9);
}

panels.forEach(function(p, i) {
  var x0 = colX[p.col], y0 = rowY[p.row];
  var x = d3.scaleLinear().domain(p.domain).range([x0, x0 + axW]);
  var y = d3.scaleLinear().domain([0, 1.8]).range([y0 + axH, y0]);
  var g = root.append("g");

  // grid + tick labels
  var xa = g.append("g").attr("transform", "translate(0," + (y0 + axH) + ")")
    .call(d3.axisBottom(x).tickValues(p.ticks).tickFormat(d3.format("d")).tickSize(-axH).tickPadding(7));
  var ya = g.append("g").attr("transform", "translate(" + x0 + ",0)")
    .call(d3.axisLeft(y).tickValues(yTicks).tickFormat(d3.format(".1f")).tickSize(-axW).tickPadding(6));
  [xa, ya].forEach(function(a) {
    a.select(".domain").remove();
    a.selectAll("line").attr("stroke", "#8a8a8a").attr("stroke-width", 1).attr("stroke-dasharray", "1.2,2.6");
    a.selectAll("text").attr("font-family", font).attr("font-weight", "bold")
      .attr("font-size", 27).attr("fill", "#000");
  });

  // AHU1 first, AHU2 on top
  g.append("g").selectAll("path").data(p.a1).enter().append("path")
    .attr("transform", function(d) { return "translate(" + x(d[0]) + "," + y(d[1]) + ")"; })
    .call(styleRed);
  g.append("g").selectAll("circle").data(p.a2).enter().append("circle")
    .attr("cx", function(d) { return x(d[0]); })
    .attr("cy", function(d) { return y(d[1]); })
    .call(styleBlue);

  // spines
  g.append("rect").attr("x", x0).attr("y", y0).attr("width", axW).attr("height", axH)
    .attr("fill", "none").attr("stroke", "#555").attr("stroke-width", 2);

  // title
  g.append("text").attr("x", x0 + axW / 2).attr("y", y0 - 6)
    .attr("text-anchor", "middle").attr("font-family", font).attr("font-size", 34)
    .attr("fill", "#000").text(titles[i]);

  // x label
  var xl = g.append("text").attr("x", x0 + axW / 2).attr("y", y0 + axH + 59)
    .attr("text-anchor", "middle").attr("font-family", font).attr("font-size", 27).attr("fill", "#000");
  degreeText(xl, p.xlabel);

  // y label
  var yl = g.append("text")
    .attr("transform", "translate(" + (x0 - 70) + "," + (y0 + axH / 2) + ") rotate(-90)")
    .attr("text-anchor", "middle").attr("font-family", font).attr("font-size", 27).attr("fill", "#000");
  degreeText(yl, ["Over-Cooling(", "C)"]);

  // legend
  var lw = 229, lh = 109;
  var lx = x0 + axW - 17.5 - lw, ly = y0 + 17;
  var lg = g.append("g").attr("transform", "translate(" + lx + "," + ly + ")");
  lg.append("rect").attr("width", lw).attr("height", lh)
    .attr("fill", "#fff").attr("stroke", "#222").attr("stroke-width", 1.5);
  var off = [[23.3, 0.3], [47.5, -2.3], [71.7, 1.7]];
  lg.append("g").selectAll("path").data(off).enter().append("path")
    .attr("transform", function(o) { return "translate(" + o[0] + "," + (29 + o[1]) + ")"; })
    .call(styleRed);
  lg.append("g").selectAll("circle").data(off).enter().append("circle")
    .attr("cx", function(o) { return o[0]; })
    .attr("cy", function(o) { return 78.5 + o[1]; })
    .call(styleBlue);
  seriesNames.forEach(function(name, k) {
    lg.append("text").attr("x", 110.8).attr("y", 40 + k * 48.7)
      .attr("font-family", font).attr("font-weight", "bold").attr("font-size", 34)
      .attr("fill", "#000").text(name);
  });
});
</script>
</body>
</html>
